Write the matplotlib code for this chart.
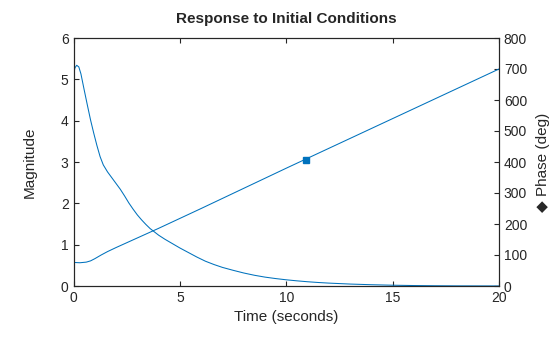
import matplotlib
matplotlib.use("Agg")
import matplotlib.pyplot as plt

# ---- data ----
mag_t = [0, 0.07, 0.15, 0.25, 0.35, 0.5, 0.65, 0.8, 0.95, 1.1, 1.25, 1.4, 1.6, 1.8,
         2.0, 2.2, 2.4, 2.6, 2.8, 3.0, 3.2, 3.4, 3.6, 3.8, 4.0, 4.3, 4.6, 5.0, 5.4,
         5.8, 6.2, 6.6, 7.0, 7.5, 8.0, 8.5, 9.0, 9.5, 10, 10.5, 11, 11.5, 12, 13,
         14, 15, 16, 17, 18, 19, 20]
mag_v = [5.12, 5.28, 5.34, 5.30, 5.13, 4.75, 4.38, 4.02, 3.70, 3.40, 3.13, 2.93, 2.76, 2.62,
         2.48, 2.34, 2.18, 2.01, 1.86, 1.72, 1.60, 1.49, 1.39, 1.31, 1.23, 1.13, 1.04, 0.92, 0.81,
         0.70, 0.60, 0.52, 0.45, 0.38, 0.315, 0.26, 0.215, 0.18, 0.15, 0.125, 0.103, 0.085, 0.07, 0.047,
         0.031, 0.019, 0.011, 0.006, 0.003, 0.002, 0.001]

phase_t = [0, 0.3, 0.6, 0.8, 1.0, 1.3, 1.6, 2.0, 3, 4, 5, 6, 8, 10, 12, 14, 16, 18, 20]
phase_v = [76, 75, 77, 81, 88, 100, 111, 124, 155, 186, 218, 250, 315, 380, 444, 508, 572, 636, 700]

marker_t = [10.93]
marker_phase = [405]

x_ticks = [0, 5, 10, 15, 20]
mag_ticks = [0, 1, 2, 3, 4, 5, 6]
phase_ticks = [0, 100, 200, 300, 400, 500, 600, 700, 800]

title = "Response to Initial Conditions"
xlabel = "Time (seconds)"
ylabel_left = "Magnitude"
ylabel_right = "\u25C6 Phase (deg)"

# ---- style ----
blue = "#0072BD"
dark = "#262626"
plt.rcParams["font.family"] = ["Liberation Sans", "DejaVu Sans"]

fig = plt.figure(figsize=(5.6, 3.37), dpi=100)
ax = fig.add_axes([73.5 / 560, 51 / 337, (499 - 73.5) / 560, (286 - 38) / 337])
ax2 = ax.twinx()

ax.plot(mag_t, mag_v, color=blue, lw=0.75)
ax2.plot(phase_t, phase_v, color=blue, lw=0.75)
ax2.plot(marker_t, marker_phase, marker="s", ms=4, color=blue, ls="none")

ax.set_xlim(0, 20)
ax.set_ylim(0, 6)
ax2.set_ylim(0, 800)
ax.set_xticks(x_ticks)
ax.set_yticks(mag_ticks)
ax2.set_yticks(phase_ticks)

for a in (ax, ax2):
    for s in a.spines.values():
        s.set_color(dark)
        s.set_linewidth(0.8)
ax.tick_params(axis="both", direction="in", colors=dark, labelsize=10, length=3.5,
               width=0.8, top=True, labelcolor=dark)
ax.tick_params(axis="y", right=False)
ax2.tick_params(axis="y", direction="in", colors=dark, labelsize=10, length=3.5,
                width=0.8, labelcolor=dark)

ax.set_xlabel(xlabel, fontsize=11, color=dark, labelpad=4)
ax.set_ylabel(ylabel_left, fontsize=11, color=dark, labelpad=17)
ax2.set_ylabel(ylabel_right, fontsize=11, color=dark, labelpad=6)
ax.set_title(title, fontsize=11, fontweight="bold", color=dark, pad=11)

fig.savefig("out.png", dpi=100)
